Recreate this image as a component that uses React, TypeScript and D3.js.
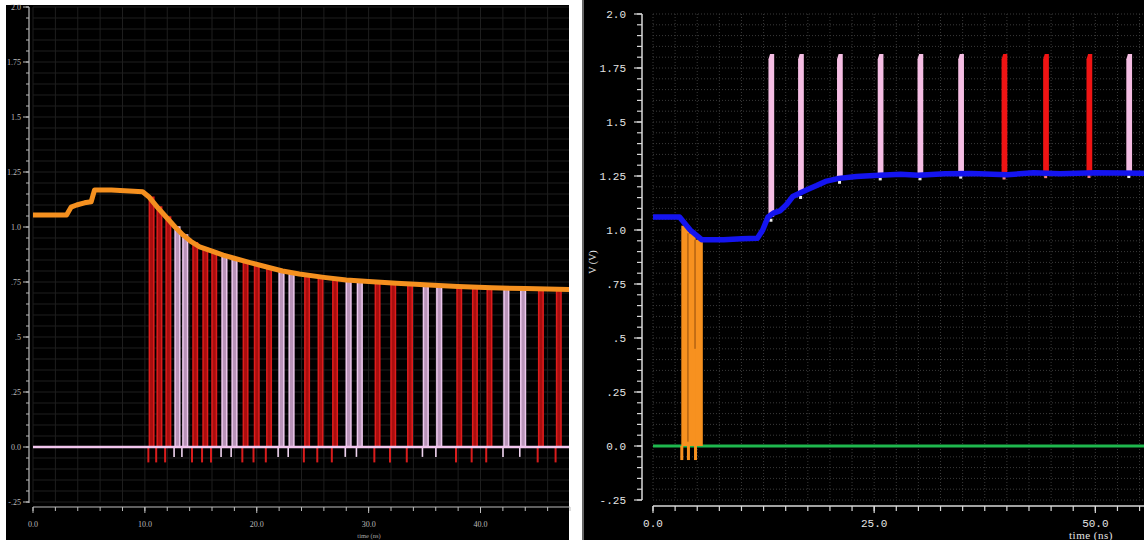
import React from "react"
import * as d3 from "d3"

const width = 1144
const height = 540

// shared voltage axis
const voltTicks = [2.0, 1.75, 1.5, 1.25, 1.0, 0.75, 0.5, 0.25, 0.0, -0.25]
const voltLabels = ["2.0", "1.75", "1.5", "1.25", "1.0", ".75", ".5", ".25", "0.0", "-.25"]

// left plot
const leftTimeTicks = [0, 10, 20, 30, 40]
const leftTimeLabels = ["0.0", "10.0", "20.0", "30.0", "40.0"]
const leftEnvelope: [number, number][] = [
  [0, 1.055], [3.0, 1.055], [3.4, 1.09], [3.9, 1.1], [4.6, 1.11], [5.2, 1.115],
  [5.5, 1.168], [7.0, 1.168], [9.8, 1.16], [10.4, 1.135], [11.2, 1.085],
  [12.0, 1.04], [12.7, 1.0], [13.4, 0.964], [14.1, 0.935], [14.9, 0.91],
  [16.0, 0.89], [17.0, 0.872], [17.9, 0.859], [19.4, 0.838], [20.9, 0.818],
  [22.3, 0.8], [23.8, 0.786], [26.0, 0.771], [28.0, 0.759], [30.0, 0.752],
  [32.5, 0.744], [35.4, 0.736], [38.0, 0.73], [41.0, 0.724], [44.0, 0.72], [48.0, 0.716],
]
const leftRedStarts = [
  10.4, 11.1, 11.9, 14.3, 15.2, 16.0, 18.8, 19.8, 20.9, 24.3, 25.5, 26.8,
  30.6, 32.0, 33.5, 37.9, 39.3, 40.6, 45.2, 46.8,
]
const leftPinkStarts = [12.7, 13.4, 16.9, 17.8, 22.0, 22.9, 28.0, 29.0, 34.9, 36.1, 42.1, 43.6]

// right plot
const rightTimeTicks = [0, 25, 50]
const rightTimeLabels = ["0.0", "25.0", "50.0"]
const rightBlue: [number, number][] = [
  [0, 1.06], [3.0, 1.06], [4.2, 1.0], [5.5, 0.955], [8.0, 0.955], [10.0, 0.96],
  [11.8, 0.962], [12.4, 1.0], [13.0, 1.06], [13.6, 1.078], [14.4, 1.09],
  [15.1, 1.118], [15.8, 1.155], [16.8, 1.175], [17.6, 1.19], [18.5, 1.206],
  [19.5, 1.225], [21.0, 1.239], [23.0, 1.248], [25.0, 1.252], [28.0, 1.258],
  [30.0, 1.253], [33.0, 1.26], [36.0, 1.262], [40.0, 1.256], [43.0, 1.265],
  [46.0, 1.26], [50.0, 1.265], [55.5, 1.263],
]
const rightOrangeStarts = [3.2, 3.95, 4.75]
const rightOrangeTops = [1.02, 0.985, 0.955]
const rightPinkStarts = [13.05, 16.4, 20.8, 25.4, 29.9, 34.5, 53.5]
const rightRedStarts = [39.4, 44.1, 49.0]
const rightPulseTop = 1.815

const valueAt = (series: [number, number][], t: number) => {
  const i = d3.bisector((d: [number, number]) => d[0]).right(series, t)
  if (i <= 0) return series[0][1]
  if (i >= series.length) return series[series.length - 1][1]
  const [t0, v0] = series[i - 1]
  const [t1, v1] = series[i]
  return v0 + ((t - t0) / (t1 - t0)) * (v1 - v0)
}

const minorVolts = d3.range(-0.25, 2.0001, 0.05)

const LeftPlot = () => {
  const x = d3.scaleLinear().domain([0, 48]).range([33, 570])
  const y = d3.scaleLinear().domain([-0.25, 2.0]).range([502, 7])
  const line = d3.line<[number, number]>().x(d => x(d[0])).y(d => y(d[1]))
  const pulse = (t0: number, w: number, top: number) =>
    `M${x(t0)},${y(0)}V${y(top)}H${x(t0 + w)}V${y(0)}`
  const labelFont = "Liberation Serif"

  return (
    <g>
      <rect x={6} y={5} width={563} height={535} fill="#000" />
      <clipPath id="clipL">
        <rect x={6} y={5} width={563} height={535} />
      </clipPath>
      <g clipPath="url(#clipL)">
        {d3.range(0, 48.01, 2).map(t => (
          <line key={"gv" + t} x1={x(t)} x2={x(t)} y1={y(2.0)} y2={y(-0.25)} stroke="#1e1e1e" />
        ))}
        {minorVolts.map(v => (
          <line key={"gh" + v} x1={x(0)} x2={570} y1={y(v)} y2={y(v)} stroke="#1e1e1e" />
        ))}

        {leftRedStarts.map(t => {
          const top = valueAt(leftEnvelope, t)
          return (
            <g key={"r" + t}>
              <path d={pulse(t, 0.4, top)} fill="#a80e0e" stroke="#e01c1c" strokeWidth={1.5} />
              <line x1={x(t) - 1} x2={x(t) - 1} y1={y(0)} y2={y(-0.07)} stroke="#d91c1c" strokeWidth={2} />
            </g>
          )
        })}
        {leftPinkStarts.map(t => {
          const top = valueAt(leftEnvelope, t)
          return (
            <g key={"p" + t}>
              <path d={pulse(t, 0.42, top)} fill="#b893b8" stroke="#eec8ee" strokeWidth={1.5} />
              <line x1={x(t) - 1} x2={x(t) - 1} y1={y(0)} y2={y(-0.045)} stroke="#f0d4f0" strokeWidth={1.6} />
            </g>
          )
        })}

        <line x1={x(0)} x2={x(48)} y1={y(0)} y2={y(0)} stroke="#f2c6ee" strokeWidth={2.5} />
        <path d={line(leftEnvelope) || ""} fill="none" stroke="#f5901f" strokeWidth={5} strokeLinejoin="round" />
      </g>

      {/* y axis */}
      <line x1={29} x2={29} y1={y(2.0)} y2={y(-0.25) + 1} stroke="#bdbdbd" strokeWidth={1.2} />
      {minorVolts.map(v => (
        <line key={"yt" + v} x1={26} x2={29} y1={y(v)} y2={y(v)} stroke="#bdbdbd" />
      ))}
      {voltTicks.map((v, i) => (
        <g key={"yl" + v}>
          <line x1={23} x2={29} y1={y(v)} y2={y(v)} stroke="#bdbdbd" />
          <text x={21} y={y(v)} dy="0.35em" textAnchor="end" fontSize={8}
            fontFamily={labelFont} fill="#bcbcbc">{voltLabels[i]}</text>
        </g>
      ))}

      {/* x axis */}
      <line x1={x(0)} x2={570} y1={507} y2={507} stroke="#bdbdbd" strokeWidth={1.2} />
      {d3.range(0, 48.01, 2).map(t => (
        <line key={"xt" + t} x1={x(t)} x2={x(t)} y1={507} y2={511} stroke="#bdbdbd" />
      ))}
      {leftTimeTicks.map((t, i) => (
        <g key={"xl" + t}>
          <line x1={x(t)} x2={x(t)} y1={507} y2={513} stroke="#bdbdbd" />
          <text x={x(t)} y={527} textAnchor="middle" fontSize={8}
            fontFamily={labelFont} fill="#bcbcbc">{leftTimeLabels[i]}</text>
        </g>
      ))}
      <text x={369} y={538} textAnchor="middle" fontSize={6.5} fontFamily={labelFont} fill="#a8a8a8">time (ns)</text>
    </g>
  )
}

const RightPlot = () => {
  const x = d3.scaleLinear().domain([0, 55.5]).range([653, 1144])
  const y = d3.scaleLinear().domain([-0.25, 2.0]).range([500, 14])
  const line = d3.line<[number, number]>().x(d => x(d[0])).y(d => y(d[1]))
  const mono = "Liberation Mono"
  const barW = 0.65
  const bar = (t0: number) => {
    const base = valueAt(rightBlue, t0)
    return `M${x(t0)},${y(base)}V${y(rightPulseTop - 0.025)}L${x(t0 + 0.18)},${y(rightPulseTop)}H${x(t0 + barW)}V${y(base)}Z`
  }

  return (
    <g>
      <rect x={582} y={0} width={562} height={540} fill="#000" />
      <line x1={583} x2={583} y1={0} y2={540} stroke="#8a8a8a" strokeWidth={1.5} />

      {d3.range(0, 55.6, 2.5).map(t => (
        <line key={"gv" + t} x1={x(t)} x2={x(t)} y1={y(2.0)} y2={y(-0.25)}
          stroke="#3a3a3a" strokeDasharray="1,2" />
      ))}
      {minorVolts.map(v => (
        <line key={"gh" + v} x1={x(0)} x2={1144} y1={y(v)} y2={y(v)}
          stroke="#3a3a3a" strokeDasharray="1,2" />
      ))}

      <line x1={x(0)} x2={x(55.5)} y1={y(0)} y2={y(0)} stroke="#1fb84e" strokeWidth={3} />

      {rightOrangeStarts.map((t, i) => (
        <g key={"o" + t}>
          <rect x={x(t)} y={y(rightOrangeTops[i])} width={x(t + 0.88) - x(t)}
            height={y(0) - y(rightOrangeTops[i])} fill="#f7911f" />
          <rect x={x(t) - 1} y={y(0)} width={3} height={y(-0.065) - y(0)} fill="#f7911f" />
        </g>
      ))}
      {rightOrangeStarts.slice(1).map((t, i) => (
        <line key={"os" + t} x1={x(t)} x2={x(t)} y1={y(rightOrangeTops[i + 1])}
          y2={y(i === 0 ? 0.02 : 0.45)} stroke="#7a3c08" strokeWidth={0.8} />
      ))}

      {rightPinkStarts.map(t => (
        <g key={"p" + t}>
          <path d={bar(t)} fill="#f5bde3" />
          <rect x={x(t) + 1} y={y(valueAt(rightBlue, t)) + 2} width={3} height={3} fill="#eeeeee" />
        </g>
      ))}
      {rightRedStarts.map(t => (
        <g key={"r" + t}>
          <path d={bar(t)} fill="#f01414" />
          <rect x={x(t) + 1} y={y(valueAt(rightBlue, t)) + 2} width={3} height={3} fill="#f08080" />
        </g>
      ))}

      <path d={line(rightBlue) || ""} fill="none" stroke="#1414f0" strokeWidth={5.5} strokeLinejoin="round" />

      {/* y axis */}
      <line x1={642} x2={642} y1={y(2.0)} y2={y(-0.25)} stroke="#d8d8d8" strokeWidth={1.5} />
      {minorVolts.map(v => (
        <line key={"yt" + v} x1={637} x2={642} y1={y(v)} y2={y(v)} stroke="#d8d8d8" strokeWidth={1.2} />
      ))}
      {voltTicks.map((v, i) => (
        <g key={"yl" + v}>
          <line x1={634} x2={642} y1={y(v)} y2={y(v)} stroke="#d8d8d8" strokeWidth={1.2} />
          <text x={626} y={y(v)} dy="0.35em" textAnchor="end" fontSize={11}
            fontFamily={mono} fill="#e4e4e4">{voltLabels[i]}</text>
        </g>
      ))}
      <text transform="translate(596,262) rotate(-90)" textAnchor="middle" fontSize={10}
        fontFamily="Liberation Serif" fill="#e4e4e4">V (V)</text>

      {/* x axis */}
      <line x1={x(0)} x2={1144} y1={506} y2={506} stroke="#d8d8d8" strokeWidth={1.5} />
      {d3.range(0, 55.6, 2.5).map(t => (
        <line key={"xt" + t} x1={x(t)} x2={x(t)} y1={506} y2={511} stroke="#d8d8d8" strokeWidth={1.2} />
      ))}
      {rightTimeTicks.map((t, i) => (
        <g key={"xl" + t}>
          <line x1={x(t)} x2={x(t)} y1={506} y2={513} stroke="#d8d8d8" strokeWidth={1.2} />
          <text x={x(t)} y={527} textAnchor="middle" fontSize={11}
            fontFamily={mono} fill="#e4e4e4">{rightTimeLabels[i]}</text>
        </g>
      ))}
      <text x={1091} y={539} textAnchor="middle" fontSize={11} fontFamily="Liberation Serif"
        fill="#e4e4e4" letterSpacing={0.5}>time (ns)</text>
    </g>
  )
}

const App = () => (
  <svg width={width} height={height}
    style={{ position: "absolute", left: 0, top: 0, display: "block", background: "#fff" }}>
    <LeftPlot />
    <RightPlot />
  </svg>
)

export default App
